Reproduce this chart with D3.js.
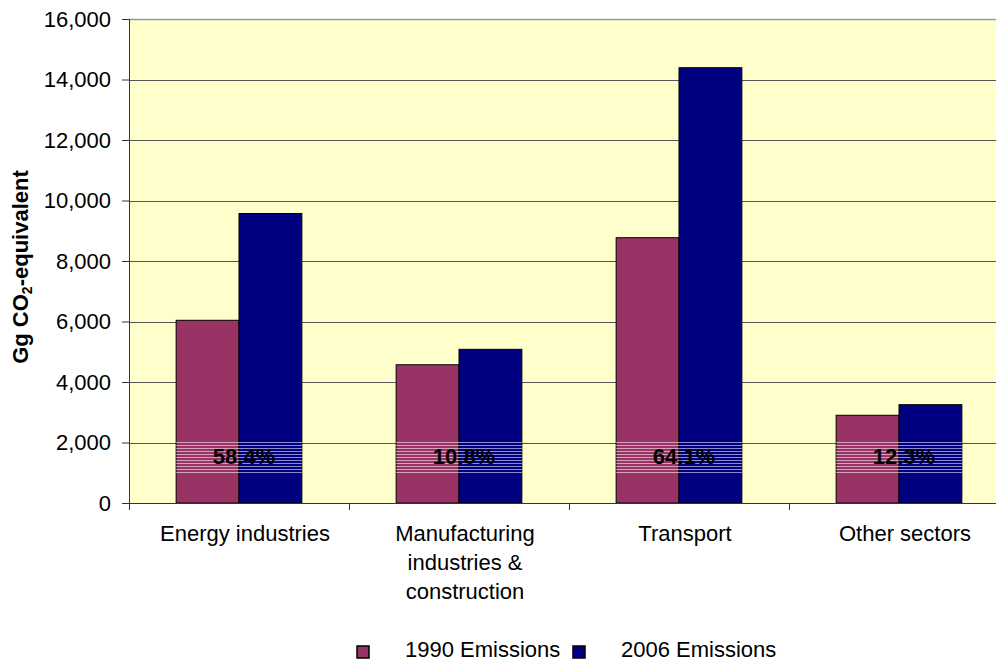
<!DOCTYPE html>
<html>
<head>
<meta charset="utf-8">
<script src="https://d3js.org/d3.v7.min.js"></script>
<style>
  body { margin: 0; background: #fff; }
  svg { display: block; font-family: "Liberation Sans", Arial, sans-serif; }
</style>
</head>
<body>
<div id="chart"></div>
<script>
// data
var categories = ["Energy industries", "Manufacturing industries & construction", "Transport", "Other sectors"];
var categoryLines = [["Energy industries"], ["Manufacturing", "industries &", "construction"], ["Transport"], ["Other sectors"]];
var seriesNames = ["1990 Emissions", "2006 Emissions"];
var emissions1990 = [6040, 4570, 8770, 2900];
var emissions2006 = [9570, 5080, 14390, 3250];
var changeLabels = ["58.4%", "10.8%", "64.1%", "12.3%"];
var yTicks = [0, 2000, 4000, 6000, 8000, 10000, 12000, 14000, 16000];

var colors = ["#993366", "#000080"];

function drawBarchart(selector) {
    var width = 996, height = 661;
    var margin = {left: 129, top: 19};
    var plotW = 880, plotH = 484;

    var svg = d3.select(selector)
        .append("svg")
        .attr("width", width)
        .attr("height", height);

    var defs = svg.append("defs");
    var pat = defs.append("pattern")
        .attr("id", "stripes")
        .attr("patternUnits", "userSpaceOnUse")
        .attr("width", 8)
        .attr("height", 3);
    pat.append("rect")
        .attr("x", 0).attr("y", 0)
        .attr("width", 8).attr("height", 1)
        .attr("fill", "#fff")
        .attr("fill-opacity", 0.55);

    var x0 = d3.scaleBand()
        .domain(categories)
        .range([0, plotW])
        .padding(0);

    var x1 = d3.scaleBand()
        .domain(seriesNames)
        .range([0, x0.bandwidth()])
        .paddingOuter(0.75)
        .paddingInner(0);

    var y = d3.scaleLinear()
        .domain([0, 16000])
        .range([plotH, 0]);

    var g = svg.append("g")
        .attr("transform", "translate(" + margin.left + "," + margin.top + ")");

    // plot area
    g.append("rect")
        .attr("width", plotW)
        .attr("height", plotH)
        .attr("fill", "#FFFFCC");

    g.append("line")
        .attr("x1", 0).attr("x2", plotW)
        .attr("y1", 0.5).attr("y2", 0.5)
        .attr("stroke", "#999")
        .attr("stroke-width", 1.5);

    // gridlines
    g.selectAll(".grid")
        .data(yTicks.slice(1, -1))
        .enter().append("line")
        .attr("class", "grid")
        .attr("x1", 0).attr("x2", plotW)
        .attr("y1", function(d) { return Math.round(y(d)) + 0.5; })
        .attr("y2", function(d) { return Math.round(y(d)) + 0.5; })
        .attr("stroke", "#555")
        .attr("stroke-width", 1);

    var rows = categories.map(function(c, i) {
        return {cat: c, values: [emissions1990[i], emissions2006[i]], label: changeLabels[i]};
    });

    var groups = g.selectAll(".group")
        .data(rows)
        .enter().append("g")
        .attr("class", "group")
        .attr("transform", function(d) { return "translate(" + x0(d.cat) + ",0)"; });

    groups.selectAll("rect")
        .data(function(d) { return d.values.map(function(v, j) { return {key: seriesNames[j], value: v, j: j}; }); })
        .enter().append("rect")
        .attr("x", function(d) { return x1(d.key); })
        .attr("y", function(d) { return y(d.value); })
        .attr("width", x1.bandwidth())
        .attr("height", function(d) { return plotH - y(d.value); })
        .attr("fill", function(d) { return colors[d.j]; })
        .attr("stroke", "#000")
        .attr("stroke-width", 1);

    // striped label backgrounds
    groups.append("rect")
        .attr("x", x1(seriesNames[0]))
        .attr("y", y(2000) - 2)
        .attr("width", x1.bandwidth() * 2)
        .attr("height", 34)
        .attr("fill", "url(#stripes)");

    groups.append("text")
        .attr("x", x0.bandwidth() / 2 + 5)
        .attr("y", y(2000) + 21)
        .attr("text-anchor", "middle")
        .attr("font-size", 22)
        .attr("font-weight", "bold")
        .attr("fill", "#000")
        .text(function(d) { return d.label; });

    // y axis
    var yAxis = g.append("g")
        .call(d3.axisLeft(y).tickValues(yTicks).tickSize(7).tickPadding(11)
            .tickFormat(d3.format(",")));
    yAxis.select(".domain").attr("stroke", "#333").attr("d", "M0.5,0V" + plotH);
    yAxis.selectAll(".tick line").attr("stroke", "#333");
    yAxis.selectAll("text")
        .attr("font-size", 22)
        .attr("font-family", "Liberation Sans, Arial, sans-serif")
        .attr("fill", "#000");

    // x axis
    var xAxis = g.append("g")
        .attr("transform", "translate(0," + plotH + ")");
    xAxis.append("line")
        .attr("x1", 0).attr("x2", plotW)
        .attr("y1", 0.5).attr("y2", 0.5)
        .attr("stroke", "#333");
    xAxis.selectAll(".xtick")
        .data(categories)
        .enter().append("line")
        .attr("class", "xtick")
        .attr("x1", function(d) { return x0(d) + 0.5; })
        .attr("x2", function(d) { return x0(d) + 0.5; })
        .attr("y1", 0).attr("y2", 7)
        .attr("stroke", "#333");

    var labels = xAxis.selectAll(".xlabel")
        .data(categories)
        .enter().append("text")
        .attr("class", "xlabel")
        .attr("text-anchor", "middle")
        .attr("font-size", 22)
        .attr("fill", "#000")
        .attr("transform", function(d) { return "translate(" + (x0(d) + x0.bandwidth() / 2 + 6) + ",38)"; });
    labels.selectAll("tspan")
        .data(function(d, i) { return categoryLines[i]; })
        .enter().append("tspan")
        .attr("x", 0)
        .attr("y", function(d, i) { return i * 29; })
        .text(function(d) { return d; });

    // y axis title
    var title = svg.append("text")
        .attr("transform", "translate(28,267) rotate(-90)")
        .attr("text-anchor", "middle")
        .attr("font-size", 22)
        .attr("font-weight", "bold")
        .attr("fill", "#000");
    title.append("tspan").text("Gg CO");
    title.append("tspan").attr("font-size", 14).attr("dy", 4).text("2");
    title.append("tspan").attr("dy", -4).text("-equivalent");

    // legend
    var legend = svg.append("g")
        .attr("transform", "translate(0,646)");
    var items = legend.selectAll(".item")
        .data(seriesNames)
        .enter().append("g")
        .attr("class", "item")
        .attr("transform", function(d, i) { return "translate(" + (357 + i * 216) + ",0)"; });
    items.append("rect")
        .attr("width", 12).attr("height", 12)
        .attr("fill", function(d, i) { return colors[i]; })
        .attr("stroke", "#000")
        .attr("stroke-width", 1.5);
    items.append("text")
        .attr("x", 48)
        .attr("y", 11)
        .attr("font-size", 22)
        .attr("fill", "#000")
        .text(function(d) { return d; });
}

drawBarchart("#chart");
</script>
</body>
</html>
